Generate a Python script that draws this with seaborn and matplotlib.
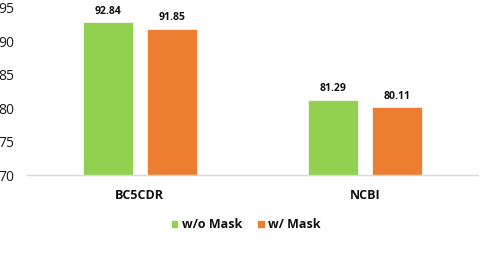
import matplotlib
matplotlib.use("Agg")
import matplotlib.pyplot as plt
import seaborn as sns
import pandas as pd

categories = ["BC5CDR", "NCBI"]
series_names = ["w/o Mask", "w/ Mask"]
wo_mask = [92.84, 81.29]
w_mask = [91.85, 80.11]
y_ticks = [70, 75, 80, 85, 90, 95]
colors = ["#92D050", "#ED7D31"]

df = pd.DataFrame({
    "dataset": categories * 2,
    "variant": [series_names[0]] * 2 + [series_names[1]] * 2,
    "value": wo_mask + w_mask,
})

sns.set_style("white")
plt.rcParams["font.family"] = ["Open Sans", "DejaVu Sans"]

fig = plt.figure(figsize=(4.96, 2.64), dpi=100)
ax = fig.add_axes([0.0544, 0.337, 0.9096, 0.633])

sns.barplot(data=df, x="dataset", y="value", hue="variant", hue_order=series_names,
            palette=colors, saturation=1, width=0.568, gap=0.22, ax=ax, legend=True,
            edgecolor="#F4F9EC", linewidth=0.6)

ax.set_ylim(70, 95)
ax.set_yticks(y_ticks)
ax.set_yticklabels([str(t) for t in y_ticks], fontsize=10, color="#1a1a1a")
ax.set_xlim(-0.5, 1.5)
ax.set_xlabel("")
ax.set_ylabel("")
for lab in ax.get_xticklabels():
    lab.set_fontweight("bold")
    lab.set_fontsize(9)
    lab.set_color("#111111")
ax.tick_params(axis="both", length=0)
ax.tick_params(axis="x", pad=10)
ax.tick_params(axis="y", pad=9)

for s in ["top", "right", "left"]:
    ax.spines[s].set_visible(False)
ax.spines["bottom"].set_color("#D9D9D9")
ax.spines["bottom"].set_linewidth(1.0)

for cont in ax.containers:
    ax.bar_label(cont, fmt="%.2f", padding=4, fontsize=7.5, fontweight="bold", color="#111111")

leg = ax.legend(loc="upper center", bbox_to_anchor=(0.485, -0.19), ncol=2, frameon=False,
                prop={"weight": "bold", "size": 9}, handlelength=0.6, handleheight=0.6,
                handletextpad=0.3, columnspacing=1.2)
for t in leg.get_texts():
    t.set_color("#111111")

fig.savefig("out.png", dpi=100)
